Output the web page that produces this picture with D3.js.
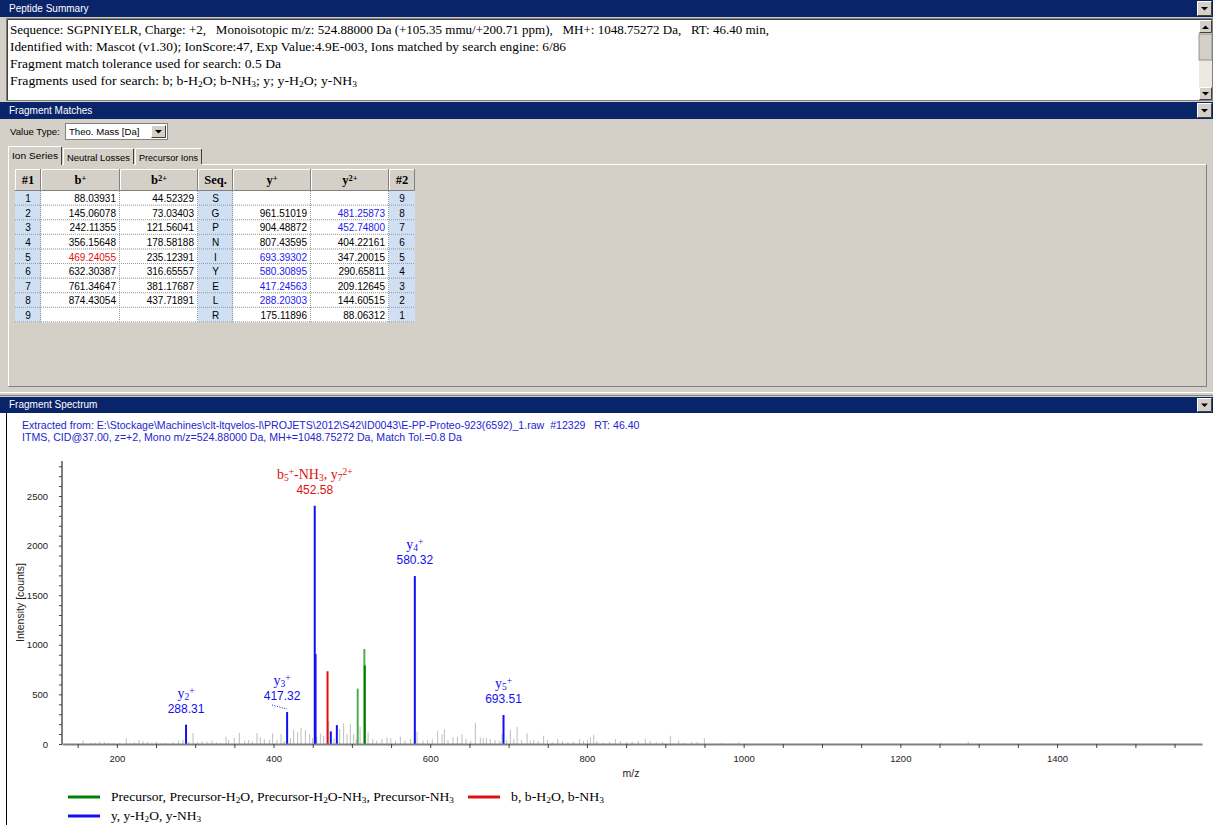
<!DOCTYPE html>
<html>
<head>
<meta charset="utf-8">
<script src="https://cdn.jsdelivr.net/npm/d3@7"></script>
<style>
body { margin: 0; background: #fff; }
svg { display: block; font-family: "Liberation Sans", Arial, sans-serif; }
text { white-space: pre; }
</style>
</head>
<body>
<svg id="page" width="1213" height="825"></svg>
<script>
// ---- data ----
const summaryLines = [
    "Sequence: SGPNIYELR, Charge: +2,   Monoisotopic m/z: 524.88000 Da (+105.35 mmu/+200.71 ppm),   MH+: 1048.75272 Da,   RT: 46.40 min,",
    "Identified with: Mascot (v1.30); IonScore:47, Exp Value:4.9E-003, Ions matched by search engine: 6/86",
    "Fragment match tolerance used for search: 0.5 Da",
    "Fragments used for search: b; b-H_{2}O; b-NH_{3}; y; y-H_{2}O; y-NH_{3}"
]

const tableHeaders = ["#1", "b^{+}", "b^{2+}", "Seq.", "y^{+}", "y^{2+}", "#2"]
const sequence = ["S", "G", "P", "N", "I", "Y", "E", "L", "R"]
const bPlus = [88.03931, 145.06078, 242.11355, 356.15648, 469.24055, 632.30387, 761.34647, 874.43054, null]
const b2Plus = [44.52329, 73.03403, 121.56041, 178.58188, 235.12391, 316.65557, 381.17687, 437.71891, null]
const yPlus = [null, 961.51019, 904.48872, 807.43595, 693.39302, 580.30895, 417.24563, 288.20303, 175.11896]
const y2Plus = [null, 481.25873, 452.74800, 404.22161, 347.20015, 290.65811, 209.12645, 144.60515, 88.06312]
// matched cells: column key -> row index -> series
const matchedCells = { "bPlus": { 4: "b" }, "yPlus": { 4: "y", 5: "y", 6: "y", 7: "y" }, "y2Plus": { 1: "y", 2: "y" } }

const headerLines = [
    "Extracted from: E:\\Stockage\\Machines\\clt-ltqvelos-l\\PROJETS\\2012\\S42\\ID0043\\E-PP-Proteo-923(6592)_1.raw  #12329   RT: 46.40",
    "ITMS, CID@37.00, z=+2, Mono m/z=524.88000 Da, MH+=1048.75272 Da, Match Tol.=0.8 Da"
]

// matched peaks
const peakMz = [288.31, 417.32, 452.58, 453.6, 468.9, 473.1, 480.8, 507.4, 515.9, 516.5, 580.32, 693.51]
const peakInt = [195, 322, 2402, 907, 733, 127, 190, 558, 958, 793, 1693, 292]
const peakType = ["y", "y", "y", "y", "b", "y", "y", "precLight", "precLight", "prec", "y", "y"]

// unmatched peaks (grey)
const noiseMz = [156.2, 166.4, 171.9, 177.4, 183.8, 188.9, 195, 203, 211.5, 216, 221.7, 227.7, 232.8, 238.7, 244,
    249.8, 256, 262, 271.1, 278.2, 283.8, 291, 296.6, 302.5, 308.1, 314.5, 320.9, 326.4, 332, 338.7, 342.1, 349.3,
    355.7, 362.5, 367.6, 372.3, 378.3, 382.5, 387.6, 394.4, 398.2, 403.8, 408.9, 413, 421, 425, 430.1, 434.5, 440,
    445.5, 449, 454.5, 459.1, 463.3, 469.8, 476.5, 483.7, 488.8, 493.2, 497.4, 501.6, 505, 509.8, 520, 526, 531,
    537.8, 544.2, 549, 555, 561.2, 567, 574, 582.5, 590, 596, 602, 608.8, 614.4, 617.4, 622, 628.4, 634, 639.9,
    645, 651, 656.9, 663.3, 667, 671, 676, 682, 688, 691, 697, 701.6, 706, 710.2, 716, 723, 727, 731.4, 737, 744.1,
    749, 755, 762.1, 768, 775, 782, 790.1, 795, 800, 803.7, 808, 812, 820, 828, 835.6, 842, 850, 857, 865, 873.9,
    880, 888, 896, 905.8, 916.5, 924, 933, 940, 949.2, 971, 993, 1080, 1251, 1286]
const noiseInt = [33, 10, 13, 20, 17, 10, 8, 12, 57, 8, 17, 40, 27, 20, 10,
    23, 8, 12, 17, 33, 40, 25, 110, 17, 27, 23, 33, 17, 10, 74, 40, 60,
    113, 33, 40, 27, 110, 67, 50, 43, 107, 40, 100, 30, 60, 140, 117, 163, 140,
    100, 60, 73, 107, 83, 230, 60, 150, 207, 100, 200, 100, 50, 175, 117, 50, 33,
    50, 67, 57, 33, 73, 33, 50, 125, 33, 40, 50, 133, 100, 150, 40, 67, 73, 100,
    50, 33, 215, 67, 57, 60, 50, 40, 33, 100, 40, 140, 50, 173, 40, 107, 33, 40, 30, 83,
    40, 20, 50, 30, 20, 25, 50, 30, 40, 67, 93, 30, 15, 20, 50, 30, 20, 25, 30, 50,
    30, 15, 20, 83, 33, 12, 18, 20, 57, 10, 17, 5, 16, 23]

// peak annotations
const labelMz = [452.58, 580.32, 288.31, 417.32, 693.51]
const labelInt = [2402, 1693, 195, 322, 292]
const labelIon = ["b_{5}^{+}-NH_{3}, y_{7}^{2+}", "y_{4}^{+}", "y_{2}^{+}", "y_{3}^{+}", "y_{5}^{+}"]
const labelType = ["b", "y", "y", "y", "y"]

const legendLabels = [
    "Precursor, Precursor-H_{2}O, Precursor-H_{2}O-NH_{3}, Precursor-NH_{3}",
    "b, b-H_{2}O, b-NH_{3}",
    "y, y-H_{2}O, y-NH_{3}"
]
const legendTypes = ["prec", "b", "y"]

const xTicks = d3.range(150, 1551, 50)
const yTicks = d3.range(0, 2801, 100)

// ---- styles ----
const W = 1213
const navy = "#0a246a"
const face = "#d4d0c8"
const typeColor = { y: "#1010f0", b: "#e01010", prec: "#008000", precLight: "#4fae4f" }
const serif = "'Liberation Serif', 'Times New Roman', serif"

const svg = d3.select("#page")

// text with _{sub} and ^{sup} markup
function richText(sel, str) {
    const re = /([_^])\{([^}]*)\}/g
    let last = 0
    let m
    while ((m = re.exec(str)) !== null) {
        if (m.index > last) sel.append("tspan").text(str.slice(last, m.index))
        sel.append("tspan")
            .attr("baseline-shift", m[1] === "_" ? "-22%" : "38%")
            .attr("font-size", "68%")
            .text(m[2])
        last = re.lastIndex
    }
    if (last < str.length) sel.append("tspan").text(str.slice(last))
    return sel
}

function dropButton(x, y, w, h) {
    svg.append("rect").attr("x", x).attr("y", y).attr("width", w).attr("height", h).attr("fill", face)
    svg.append("path").attr("fill", "none").attr("stroke", "#fff")
        .attr("d", `M${x + 0.5},${y + h - 0.5}V${y + 0.5}H${x + w - 0.5}`)
    svg.append("path").attr("fill", "none").attr("stroke", "#404040")
        .attr("d", `M${x + 0.5},${y + h - 0.5}H${x + w - 0.5}V${y + 0.5}`)
    const cx = x + w / 2, cy = y + h / 2
    svg.append("path").attr("fill", "#000")
        .attr("d", `M${cx - 3.5},${cy - 1.5}H${cx + 3.5}L${cx},${cy + 2}Z`)
}

function titleBar(y, h, label) {
    svg.append("rect").attr("x", 0).attr("y", y).attr("width", W).attr("height", h).attr("fill", navy)
    svg.append("text").attr("x", 9).attr("y", y + h - 5)
        .attr("fill", "#fff").attr("font-size", 10).text(label)
    dropButton(1197, y + 1, 15, h - 2)
}

// ---- Peptide Summary ----
svg.append("rect").attr("x", 0).attr("y", 0).attr("width", W).attr("height", 400).attr("fill", face)
titleBar(0, 17, "Peptide Summary")
svg.append("rect").attr("x", 6.5).attr("y", 18.5).attr("width", 1206).attr("height", 82)
    .attr("fill", "#fff").attr("stroke", "#808080")
svg.append("path").attr("stroke", "#404040").attr("fill", "none").attr("d", "M7.5,100V19.5H1212")

const summaryWidth = [759, 556, 271, 347]
summaryLines.forEach((line, i) => {
    richText(svg.append("text")
        .attr("x", 10).attr("y", 34 + i * 17)
        .attr("font-family", serif).attr("font-size", 13.3)
        .attr("textLength", summaryWidth[i]).attr("lengthAdjust", "spacingAndGlyphs")
        .attr("fill", "#000"), line)
})

// scrollbar
{
    const sx = 1199, sw = 13
    svg.append("rect").attr("x", sx).attr("y", 20).attr("width", sw).attr("height", 80).attr("fill", "#ece9e2")
    dropButton(sx, 20, sw, 13)
    svg.append("path").attr("fill", face).attr("d", `M${sx + 1},21h${sw - 2}v11h${-(sw - 2)}Z`)
    svg.append("path").attr("fill", "#000").attr("d", `M${sx + 3},29H${sx + 10}L${sx + 6.5},25.5Z`)
    svg.append("rect").attr("x", sx).attr("y", 34).attr("width", sw).attr("height", 26).attr("fill", face)
        .attr("stroke", "#808080").attr("stroke-width", 0.8)
    dropButton(sx, 87, sw, 13)
}

// ---- Fragment Matches ----
titleBar(102, 17, "Fragment Matches")
svg.append("text").attr("x", 10).attr("y", 135).attr("font-size", 9.6).attr("fill", "#000").text("Value Type:")
svg.append("rect").attr("x", 65.5).attr("y", 123.5).attr("width", 102).attr("height", 16)
    .attr("fill", "#fff").attr("stroke", "#808080")
svg.append("text").attr("x", 69).attr("y", 135).attr("font-size", 9.6).attr("fill", "#000").text("Theo. Mass [Da]")
dropButton(151, 125, 15, 13)

// tabs
const tabNames = ["Ion Series", "Neutral Losses", "Precursor Ions"]
const tabX = [8, 63, 135]
const tabW = [54, 71, 67]
svg.append("path").attr("stroke", "#fff").attr("fill", "none").attr("d", "M8.5,386V164.5H1206")
svg.append("path").attr("stroke", "#808080").attr("fill", "none").attr("d", "M8.5,386.5H1206.5V164.5")
tabNames.forEach((t, i) => {
    const sel = i === 0
    const top = sel ? 146 : 148
    svg.append("rect").attr("x", tabX[i]).attr("y", top).attr("width", tabW[i]).attr("height", 165 - top)
        .attr("fill", face)
    svg.append("path").attr("fill", "none").attr("stroke", "#fff")
        .attr("d", `M${tabX[i] + 0.5},165V${top + 0.5}H${tabX[i] + tabW[i] - 1}`)
    svg.append("path").attr("fill", "none").attr("stroke", "#404040")
        .attr("d", `M${tabX[i] + tabW[i] - 0.5},${top + 1}V${sel ? 165 : 164}`)
    svg.append("text").attr("x", tabX[i] + tabW[i] / 2).attr("y", top + 13)
        .attr("text-anchor", "middle").attr("font-size", 9.2).attr("fill", "#000")
        .attr("textLength", tabW[i] - 8).attr("lengthAdjust", "spacingAndGlyphs").text(t)
})

// ion table
{
    const colX = [15, 41, 120, 198, 233, 311, 389, 415]
    const headTop = 169, headH = 22, rowH = 14.6
    const rowTop = headTop + headH
    const cellBlue = "#cfe0f5"
    const fmt = d3.format(".5f")
    const columns = [
        { kind: "idx", values: d3.range(1, 10) },
        { kind: "num", key: "bPlus", values: bPlus },
        { kind: "num", key: "b2Plus", values: b2Plus },
        { kind: "seq", values: sequence },
        { kind: "num", key: "yPlus", values: yPlus },
        { kind: "num", key: "y2Plus", values: y2Plus },
        { kind: "idx", values: d3.range(9, 0, -1) }
    ]

    columns.forEach((col, c) => {
        const x0 = colX[c], w = colX[c + 1] - colX[c]
        // header cell
        svg.append("rect").attr("x", x0).attr("y", headTop).attr("width", w).attr("height", headH).attr("fill", face)
        svg.append("path").attr("fill", "none").attr("stroke", "#fff")
            .attr("d", `M${x0 + 0.5},${headTop + headH}V${headTop + 0.5}H${x0 + w}`)
        svg.append("path").attr("fill", "none").attr("stroke", "#808080")
            .attr("d", `M${x0},${headTop + headH - 0.5}H${x0 + w - 0.5}V${headTop}`)
        richText(svg.append("text")
            .attr("x", x0 + w / 2).attr("y", headTop + 15)
            .attr("text-anchor", "middle").attr("font-family", serif)
            .attr("font-weight", "bold").attr("font-size", 12.5).attr("fill", "#000"), tableHeaders[c])

        col.values.forEach((v, r) => {
            const y0 = rowTop + r * rowH
            svg.append("rect").attr("x", x0).attr("y", y0).attr("width", w).attr("height", rowH)
                .attr("fill", col.kind === "num" ? "#fff" : cellBlue)
            if (v === null) return
            const matched = col.kind === "num" && matchedCells[col.key] && matchedCells[col.key][r]
            const t = svg.append("text")
                .attr("y", y0 + rowH - 3.5)
                .attr("font-size", 10)
                .attr("fill", matched ? (matched === "b" ? "#e01010" : "#1a1af0") : "#000")
            if (col.kind === "num") {
                t.attr("x", x0 + w - 4).attr("text-anchor", "end").text(fmt(v))
            } else {
                t.attr("x", x0 + w / 2).attr("text-anchor", "middle").text(v)
            }
        })
    })

    // dotted grid
    d3.range(1, 10).forEach(r => {
        svg.append("line")
            .attr("x1", colX[0]).attr("x2", colX[7])
            .attr("y1", rowTop + r * rowH - 0.5).attr("y2", rowTop + r * rowH - 0.5)
            .attr("stroke", "#9a9a9a").attr("stroke-dasharray", "1,1")
    })
    colX.slice(1, 7).forEach(cx => {
        svg.append("line")
            .attr("x1", cx - 0.5).attr("x2", cx - 0.5)
            .attr("y1", rowTop).attr("y2", rowTop + 9 * rowH)
            .attr("stroke", "#9a9a9a").attr("stroke-dasharray", "1,1")
    })
}

// splitter
svg.append("line").attr("x1", 0).attr("x2", W).attr("y1", 392.5).attr("y2", 392.5).attr("stroke", "#fff")
svg.append("line").attr("x1", 0).attr("x2", W).attr("y1", 395.5).attr("y2", 395.5).attr("stroke", "#808080")

// ---- Fragment Spectrum ----
titleBar(397, 16, "Fragment Spectrum")
svg.append("rect").attr("x", 0).attr("y", 413).attr("width", W).attr("height", 412).attr("fill", "#fff")
svg.append("line").attr("x1", 6.5).attr("x2", 6.5).attr("y1", 413).attr("y2", 825).attr("stroke", "#000")

headerLines.forEach((line, i) => {
    svg.append("text")
        .attr("x", 22).attr("y", 429 + i * 12)
        .attr("font-size", 10.6).attr("fill", "#2424d0")
        .text(line)
})

const x = d3.scaleLinear().domain([130, 1585]).range([62, 1202])
const y = d3.scaleLinear().domain([0, 2853]).range([744, 461])

// unmatched peaks
svg.append("g").selectAll("line")
    .data(d3.zip(noiseMz, noiseInt))
    .join("line")
    .attr("x1", d => x(d[0]) + 0.5).attr("x2", d => x(d[0]) + 0.5)
    .attr("y1", y(0)).attr("y2", d => y(d[1]))
    .attr("stroke", "#bdbdbd").attr("stroke-width", 1)

// matched peaks
svg.append("g").selectAll("line")
    .data(d3.zip(peakMz, peakInt, peakType))
    .join("line")
    .attr("x1", d => x(d[0])).attr("x2", d => x(d[0]))
    .attr("y1", y(0)).attr("y2", d => y(d[1]))
    .attr("stroke", d => typeColor[d[2]]).attr("stroke-width", 2)

// axes
const xAxis = svg.append("g")
    .attr("transform", `translate(0,${y(0)})`)
    .call(d3.axisBottom(x).tickValues(xTicks).tickSize(4).tickSizeOuter(0).tickPadding(7)
        .tickFormat(d => d % 200 === 0 ? d : ""))
xAxis.select(".domain").attr("stroke", "#808080").attr("stroke-width", 2)
xAxis.selectAll(".tick line").attr("stroke", "#444")
xAxis.selectAll(".tick text").attr("font-size", 9.5).attr("fill", "#222")
    .attr("font-family", "'Liberation Sans', Arial, sans-serif")

const yAxis = svg.append("g")
    .attr("transform", `translate(${x(130)},0)`)
    .call(d3.axisLeft(y).tickValues(yTicks).tickSize(3).tickSizeOuter(0).tickPadding(11)
        .tickFormat(d => d % 500 === 0 ? d : ""))
yAxis.select(".domain").attr("stroke", "#808080").attr("stroke-width", 2)
    .attr("d", `M0,${y(0)}V461`)
yAxis.selectAll(".tick line").attr("stroke", "#444")
yAxis.selectAll(".tick text").attr("font-size", 9.5).attr("fill", "#222")
    .attr("font-family", "'Liberation Sans', Arial, sans-serif")

svg.append("text")
    .attr("transform", `translate(24,${(y(0) + 461) / 2}) rotate(-90)`)
    .attr("text-anchor", "middle").attr("font-size", 10.5).attr("fill", "#222")
    .text("Intensity [counts]")
svg.append("text").attr("x", 631).attr("y", 777)
    .attr("text-anchor", "middle").attr("font-size", 10.5).attr("fill", "#222").text("m/z")

// peak annotations
const labelShift = { 3: -5 }
labelMz.forEach((mz, i) => {
    const px = x(mz) + (labelShift[i] || 0)
    const py = y(labelInt[i])
    const col = typeColor[labelType[i]]
    svg.append("text")
        .attr("x", px).attr("y", py - 12)
        .attr("text-anchor", "middle").attr("font-size", 12).attr("fill", col)
        .text(mz.toFixed(2))
    richText(svg.append("text")
        .attr("x", px).attr("y", py - 27)
        .attr("text-anchor", "middle").attr("font-family", serif)
        .attr("font-size", 14).attr("fill", col), labelIon[i])
    if (labelShift[i]) {
        svg.append("line")
            .attr("x1", x(mz) - 15).attr("y1", py - 7)
            .attr("x2", x(mz)).attr("y2", py - 3)
            .attr("stroke", col).attr("stroke-dasharray", "1,1.5")
    }
})

// legend
const legendX = [68, 468, 68]
const legendY = [797, 797, 816]
const legendWidth = [343, 93, 90]
legendLabels.forEach((lab, i) => {
    svg.append("line")
        .attr("x1", legendX[i]).attr("x2", legendX[i] + 32)
        .attr("y1", legendY[i]).attr("y2", legendY[i])
        .attr("stroke", typeColor[legendTypes[i]]).attr("stroke-width", 3)
    richText(svg.append("text")
        .attr("x", legendX[i] + 43).attr("y", legendY[i] + 4)
        .attr("font-family", serif).attr("font-size", 13)
        .attr("textLength", legendWidth[i]).attr("lengthAdjust", "spacingAndGlyphs")
        .attr("fill", "#000"), lab)
})
</script>
</body>
</html>
